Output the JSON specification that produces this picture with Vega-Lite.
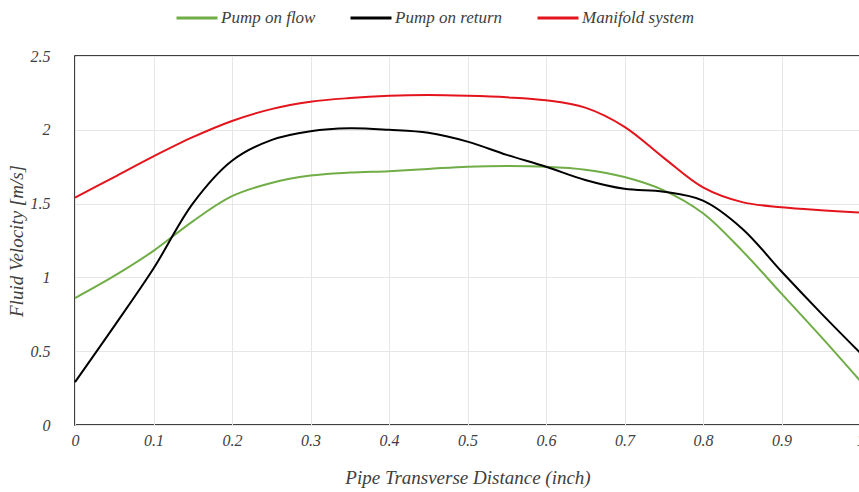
{
  "$schema": "https://vega.github.io/schema/vega-lite/v6.json",
  "autosize": {"type": "none"},
  "width": 785,
  "height": 369,
  "padding": {"left": 75, "top": 56, "right": 0, "bottom": 67},
  "background": "white",
  "config": {
    "view": {"stroke": "#000000", "strokeWidth": 1.5},
    "font": "Liberation Serif"
  },
  "data": {
    "values": [
      {"x": 0, "y": 0.86, "s": "Pump on flow"},
      {"x": 0.05, "y": 1.01, "s": "Pump on flow"},
      {"x": 0.1, "y": 1.18, "s": "Pump on flow"},
      {"x": 0.15, "y": 1.38, "s": "Pump on flow"},
      {"x": 0.2, "y": 1.55, "s": "Pump on flow"},
      {"x": 0.25, "y": 1.64, "s": "Pump on flow"},
      {"x": 0.3, "y": 1.69, "s": "Pump on flow"},
      {"x": 0.35, "y": 1.71, "s": "Pump on flow"},
      {"x": 0.4, "y": 1.72, "s": "Pump on flow"},
      {"x": 0.45, "y": 1.735, "s": "Pump on flow"},
      {"x": 0.5, "y": 1.75, "s": "Pump on flow"},
      {"x": 0.55, "y": 1.755, "s": "Pump on flow"},
      {"x": 0.6, "y": 1.75, "s": "Pump on flow"},
      {"x": 0.65, "y": 1.73, "s": "Pump on flow"},
      {"x": 0.7, "y": 1.68, "s": "Pump on flow"},
      {"x": 0.75, "y": 1.59, "s": "Pump on flow"},
      {"x": 0.8, "y": 1.435, "s": "Pump on flow"},
      {"x": 0.85, "y": 1.18, "s": "Pump on flow"},
      {"x": 0.9, "y": 0.89, "s": "Pump on flow"},
      {"x": 0.95, "y": 0.6, "s": "Pump on flow"},
      {"x": 1, "y": 0.3, "s": "Pump on flow"},
      {"x": 0, "y": 0.29, "s": "Pump on return"},
      {"x": 0.05, "y": 0.67, "s": "Pump on return"},
      {"x": 0.1, "y": 1.06, "s": "Pump on return"},
      {"x": 0.15, "y": 1.5, "s": "Pump on return"},
      {"x": 0.2, "y": 1.79, "s": "Pump on return"},
      {"x": 0.25, "y": 1.93, "s": "Pump on return"},
      {"x": 0.3, "y": 1.99, "s": "Pump on return"},
      {"x": 0.35, "y": 2.01, "s": "Pump on return"},
      {"x": 0.4, "y": 2.0, "s": "Pump on return"},
      {"x": 0.45, "y": 1.98, "s": "Pump on return"},
      {"x": 0.5, "y": 1.92, "s": "Pump on return"},
      {"x": 0.55, "y": 1.83, "s": "Pump on return"},
      {"x": 0.6, "y": 1.75, "s": "Pump on return"},
      {"x": 0.65, "y": 1.66, "s": "Pump on return"},
      {"x": 0.7, "y": 1.6, "s": "Pump on return"},
      {"x": 0.75, "y": 1.58, "s": "Pump on return"},
      {"x": 0.8, "y": 1.52, "s": "Pump on return"},
      {"x": 0.85, "y": 1.33, "s": "Pump on return"},
      {"x": 0.9, "y": 1.04, "s": "Pump on return"},
      {"x": 0.95, "y": 0.76, "s": "Pump on return"},
      {"x": 1, "y": 0.49, "s": "Pump on return"},
      {"x": 0, "y": 1.54, "s": "Manifold system"},
      {"x": 0.05, "y": 1.68, "s": "Manifold system"},
      {"x": 0.1, "y": 1.82, "s": "Manifold system"},
      {"x": 0.15, "y": 1.95, "s": "Manifold system"},
      {"x": 0.2, "y": 2.06, "s": "Manifold system"},
      {"x": 0.25, "y": 2.14, "s": "Manifold system"},
      {"x": 0.3, "y": 2.19, "s": "Manifold system"},
      {"x": 0.35, "y": 2.215, "s": "Manifold system"},
      {"x": 0.4, "y": 2.23, "s": "Manifold system"},
      {"x": 0.45, "y": 2.235, "s": "Manifold system"},
      {"x": 0.5, "y": 2.23, "s": "Manifold system"},
      {"x": 0.55, "y": 2.22, "s": "Manifold system"},
      {"x": 0.6, "y": 2.2, "s": "Manifold system"},
      {"x": 0.65, "y": 2.15, "s": "Manifold system"},
      {"x": 0.7, "y": 2.02, "s": "Manifold system"},
      {"x": 0.75, "y": 1.81, "s": "Manifold system"},
      {"x": 0.8, "y": 1.61, "s": "Manifold system"},
      {"x": 0.85, "y": 1.51, "s": "Manifold system"},
      {"x": 0.9, "y": 1.475, "s": "Manifold system"},
      {"x": 0.95, "y": 1.455, "s": "Manifold system"},
      {"x": 1, "y": 1.44, "s": "Manifold system"}
    ]
  },
  "mark": {"type": "line", "interpolate": "catmull-rom", "strokeWidth": 2},
  "encoding": {
    "x": {
      "field": "x", "type": "quantitative",
      "scale": {"domain": [0, 1], "nice": false},
      "axis": {
        "title": "Pipe Transverse Distance (inch)",
        "values": [0, 0.1, 0.2, 0.3, 0.4, 0.5, 0.6, 0.7, 0.8, 0.9, 1],
        "format": "~g",
        "labelFlush": false,
        "domain": false, "ticks": false,
        "grid": true, "gridColor": "#e6e6e6",
        "labelFont": "Liberation Serif", "labelFontStyle": "italic", "labelFontSize": 16, "labelColor": "#404040",
        "labelPadding": 7,
        "titleFont": "Liberation Serif", "titleFontStyle": "italic", "titleFontWeight": "normal", "titleFontSize": 19, "titleColor": "#404040",
        "titlePadding": 20
      }
    },
    "y": {
      "field": "y", "type": "quantitative",
      "scale": {"domain": [0, 2.5], "nice": false},
      "axis": {
        "title": "Fluid Velocity [m/s]",
        "values": [0, 0.5, 1, 1.5, 2, 2.5],
        "format": "~g",
        "domain": false, "ticks": false,
        "grid": true, "gridColor": "#e6e6e6",
        "labelFont": "Liberation Serif", "labelFontStyle": "italic", "labelFontSize": 16, "labelColor": "#404040",
        "labelPadding": 25,
        "titleFont": "Liberation Serif", "titleFontStyle": "italic", "titleFontWeight": "normal", "titleFontSize": 19, "titleColor": "#404040",
        "titlePadding": 4
      }
    },
    "color": {
      "field": "s", "type": "nominal",
      "sort": ["Pump on flow", "Pump on return", "Manifold system"],
      "scale": {"domain": ["Pump on flow", "Pump on return", "Manifold system"], "range": ["#70AD47", "#000000", "#E3141B"]},
      "legend": {
        "title": null,
        "orient": "none",
        "direction": "horizontal",
        "legendX": 100,
        "legendY": -60,
        "symbolType": "stroke",
        "symbolSize": 1681,
        "symbolStrokeWidth": 3,
        "labelOffset": 2,
        "columnPadding": 28,
        "labelFont": "Liberation Serif", "labelFontStyle": "italic", "labelFontSize": 17, "labelColor": "#404040"
      }
    }
  }
}
